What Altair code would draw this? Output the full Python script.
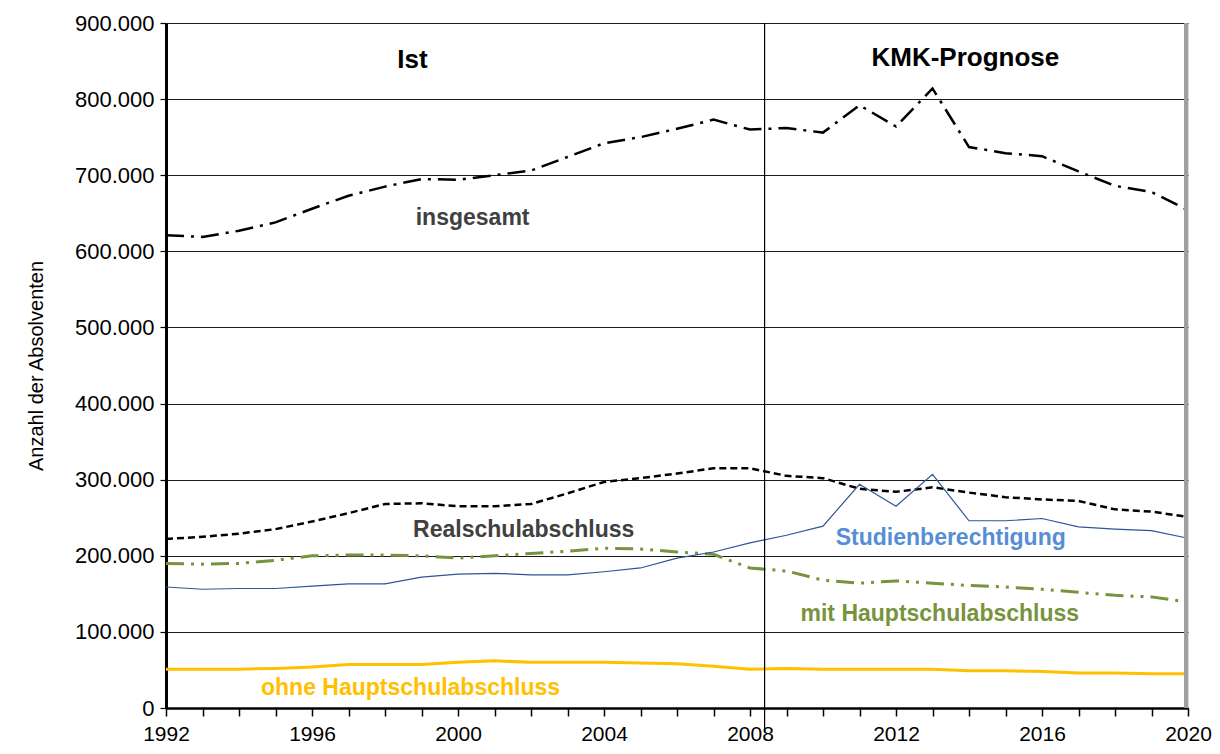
import altair as alt
import pandas as pd

years = list(range(1992, 2021))
insgesamt = [621, 619, 627, 638, 656, 673, 685, 695, 694, 700, 706, 724, 742, 750, 761,
             773, 760, 762, 756, 792, 764, 814, 737, 729, 725, 705, 686, 678, 654]
realschul = [222, 225, 229, 235, 245, 256, 268, 269, 265, 265, 268, 282, 297, 302, 308,
             315, 315, 305, 302, 288, 284, 290, 283, 277, 274, 272, 261, 258, 251]
studien = [159, 156, 157, 157, 160, 163, 163, 172, 176, 177, 175, 175, 179, 184, 197,
           205, 217, 227, 239, 294, 265, 307, 246, 246, 249, 238, 235, 233, 223]
mit_haupt = [190, 189, 190, 194, 200, 201, 201, 200, 197, 200, 203, 206, 210, 209, 205,
             202, 184, 180, 168, 164, 167, 164, 161, 159, 156, 152, 148, 146, 139]
ohne_haupt = [51, 51, 51, 52, 54, 57, 57, 57, 60, 62, 60, 60, 60, 59, 58,
              55, 51, 52, 51, 51, 51, 51, 49, 49, 48, 46, 46, 45, 45]

prognose_start = 2008.4

label_text = ["Ist", "KMK-Prognose", "insgesamt", "Realschulabschluss",
              "Studienberechtigung", "mit Hauptschulabschluss", "ohne Hauptschulabschluss"]
label_x = [1998.75, 2013.9, 2000.4, 2001.8, 2013.5, 2013.2, 1998.7]
label_y = [851000, 854000, 644000, 234000, 223000, 124000, 26000]
label_color = ["#000000", "#000000", "#404040", "#404040", "#558ED5", "#77933C", "#FFC000"]
label_size = [26, 26, 23, 23, 23, 23, 23]

W, H = 1022, 685

series = [
    ("insgesamt", insgesamt, "#000000", 2.5, [18, 7, 3, 7]),
    ("Realschulabschluss", realschul, "#000000", 2.5, [7, 4]),
    ("mit Hauptschulabschluss", mit_haupt, "#77933C", 3, [18, 7, 3, 7, 3, 7]),
    ("Studienberechtigung", studien, "#2E5597", 1.2, []),
    ("ohne Hauptschulabschluss", ohne_haupt, "#FFC000", 3, []),
]

x_scale = alt.Scale(domain=[1992, 2020], nice=False, zero=False)
y_scale = alt.Scale(domain=[0, 900000], nice=False)

x_axis = alt.Axis(
    values=years, title=None, grid=False,
    labelExpr="(datum.value - 1992) % 4 == 0 ? format(datum.value, 'd') : ''",
    labelFontSize=21, labelColor="#000", labelFont="Liberation Sans",
    tickSize=8, tickColor="#000", tickWidth=1.5,
    domainColor="#000", domainWidth=2.5, labelPadding=7, labelFlush=False,
)
y_axis = alt.Axis(
    values=list(range(0, 900001, 100000)), title="Anzahl der Absolventen",
    labelExpr="replace(format(datum.value, ','), ',', '.')",
    labelFontSize=22, labelColor="#000", labelFont="Liberation Sans",
    titleFont="Liberation Sans", titleFontSize=20, titleFontWeight="normal",
    titleColor="#000", titlePadding=28,
    tickSize=6, tickColor="#000", tickWidth=1.2,
    domainColor="#000", domainWidth=3, labelPadding=6,
    grid=True, gridColor="#1a1a1a", gridWidth=1.2,
)


def X(field):
    return alt.X(field, scale=x_scale, axis=x_axis)


def Y(field):
    return alt.Y(field, scale=y_scale, axis=y_axis)


layers = []
for name, vals, color, width, dash in series:
    df = pd.DataFrame({"Jahr": years, "Wert": [v * 1000 for v in vals]})
    mk = dict(color=color, strokeWidth=width)
    if dash:
        mk["strokeDash"] = dash
    layers.append(alt.Chart(df).mark_line(**mk).encode(x=X("Jahr:Q"), y=Y("Wert:Q")))

div_df = pd.DataFrame({"Jahr": [prognose_start]})
divider = alt.Chart(div_df).mark_rule(color="#000", strokeWidth=1.2).encode(
    x=X("Jahr:Q"), y=alt.value(0), y2=alt.value(H + 24))

edge_df = pd.DataFrame({"Jahr": [2020]})
edge = alt.Chart(edge_df).mark_rule(color="#a0a0a0", strokeWidth=4).encode(
    x=X("Jahr:Q"), y=alt.value(0), y2=alt.value(H), xOffset=alt.value(-2))

lab_df = pd.DataFrame({"t": label_text, "x": label_x, "y": label_y,
                       "c": label_color, "s": label_size})
labels = alt.Chart(lab_df).mark_text(fontWeight="bold", font="Liberation Sans",
                                     align="center", baseline="middle").encode(
    x=X("x:Q"), y=Y("y:Q"),
    text="t:N", color=alt.Color("c:N", scale=None), size=alt.Size("s:Q", scale=None))

chart = alt.layer(*layers, edge, divider, labels).properties(
    width=W, height=H,
    autosize=alt.AutoSizeParams(type="none"),
    padding={"left": 158, "top": 15, "right": 24, "bottom": 38},
).configure_view(stroke=None).configure(background="white")

chart.save("out.html", embed_options={"renderer": "svg", "actions": False})
